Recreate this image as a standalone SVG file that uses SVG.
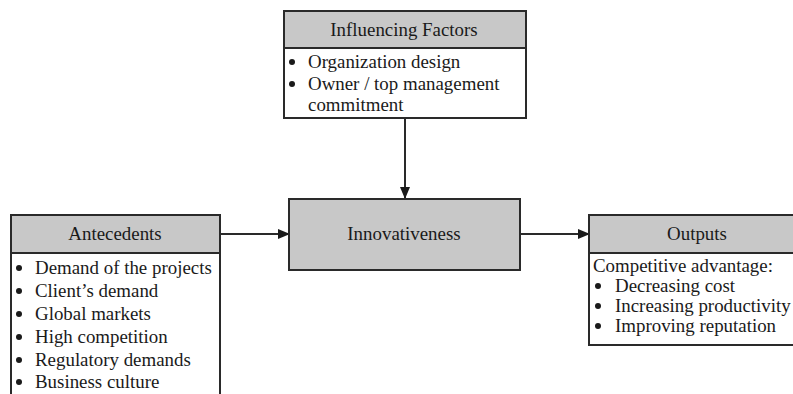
<svg xmlns="http://www.w3.org/2000/svg" width="793" height="394" viewBox="0 0 793 394">
<style>
text{font-family:"Liberation Serif","Times New Roman",serif;font-size:18.9px;fill:#1a1a1a}
.c{text-anchor:middle}
.box{fill:#fff;stroke:#2a2a2a;stroke-width:2}
.hdr{fill:#c8c8c8;stroke:#2a2a2a;stroke-width:2}
.ln{stroke:#2a2a2a;stroke-width:2;fill:none}
.dot{fill:#1a1a1a}
</style>
<defs>
<marker id="ah" markerWidth="12" markerHeight="10" refX="11" refY="5" orient="auto" markerUnits="userSpaceOnUse">
<path d="M0,0 L12,5 L0,10 Z" fill="#1a1a1a"/>
</marker>
</defs>
<g id="connectors">
<line class="ln" x1="405" y1="118" x2="405" y2="198" marker-end="url(#ah)"/>
<line class="ln" x1="220" y1="234" x2="289" y2="234" marker-end="url(#ah)"/>
<line class="ln" x1="520" y1="234" x2="589" y2="234" marker-end="url(#ah)"/>
</g>
<g id="influencing">
<rect class="box" x="284" y="11" width="242" height="107"/>
<rect class="hdr" x="284" y="11" width="242" height="37"/>
<text class="c" x="404" y="36">Influencing Factors</text>
<circle class="dot" cx="292" cy="62" r="3"/>
<text x="308" y="68">Organization design</text>
<circle class="dot" cx="292" cy="84" r="3"/>
<text x="308" y="90">Owner / top management</text>
<text x="308" y="111">commitment</text>
</g>
<g id="innovativeness">
<rect class="hdr" x="289" y="199" width="231" height="71"/>
<text class="c" x="404" y="240">Innovativeness</text>
</g>
<g id="antecedents">
<rect class="box" x="11" y="215" width="209" height="190"/>
<rect class="hdr" x="11" y="215" width="209" height="38"/>
<text class="c" x="115" y="240">Antecedents</text>
<circle class="dot" cx="19" cy="268" r="3"/><text x="35" y="274">Demand of the projects</text>
<circle class="dot" cx="19" cy="291" r="3"/><text x="35" y="297">Client’s demand</text>
<circle class="dot" cx="19" cy="314" r="3"/><text x="35" y="320">Global markets</text>
<circle class="dot" cx="19" cy="337" r="3"/><text x="35" y="343">High competition</text>
<circle class="dot" cx="19" cy="360" r="3"/><text x="35" y="366">Regulatory demands</text>
<circle class="dot" cx="19" cy="382" r="3"/><text x="35" y="388">Business culture</text>
</g>
<g id="outputs">
<rect class="box" x="589" y="215" width="216" height="130"/>
<rect class="hdr" x="589" y="215" width="216" height="38"/>
<text class="c" x="697" y="240">Outputs</text>
<text x="593" y="272">Competitive advantage:</text>
<circle class="dot" cx="598" cy="286" r="3"/><text x="615" y="292">Decreasing cost</text>
<circle class="dot" cx="598" cy="306" r="3"/><text x="615" y="312">Increasing productivity</text>
<circle class="dot" cx="598" cy="326" r="3"/><text x="615" y="332">Improving reputation</text>
</g>
</svg>
